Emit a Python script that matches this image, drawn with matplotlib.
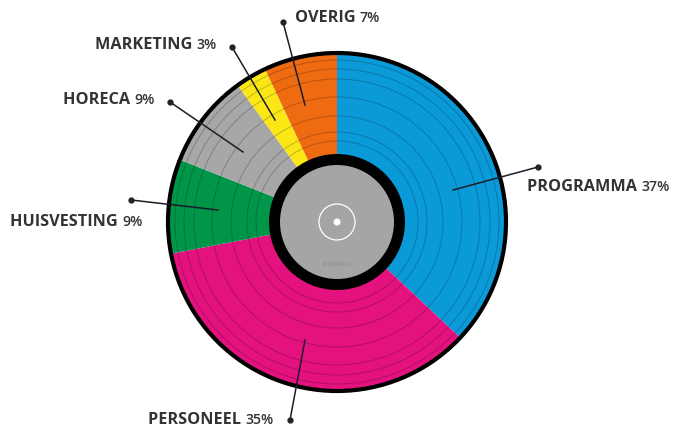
import numpy as np
import matplotlib.pyplot as plt
from matplotlib.patches import Circle

# budget split (clockwise from 12 o'clock)
names = ['PROGRAMMA', 'PERSONEEL', 'HUISVESTING', 'HORECA', 'MARKETING', 'OVERIG']
shares = [37, 35, 9, 9, 3, 7]
colors = ['#0a9ad8', '#e3127f', '#00964a', '#a7a7a7', '#fbe716', '#ef6b12']

# label placement (pixel coords, y from top): text left x, text y, dot, line end
lab_x = [527, 148, 10, 63, 95, 295]
lab_y = [187, 420, 222, 100, 45, 18]
dots = [(538, 167), (290, 420), (131, 200), (170, 102), (232, 47), (283, 22)]
ends = [(453, 190), (305, 340), (218, 210), (243, 152), (275, 120), (305, 105)]

W, H = 673, 428
fig = plt.figure(figsize=(W/100, H/100), dpi=100)
ax = fig.add_axes([0, 0, 1, 1])

cx, cy, R = 337, H-222, 169
ax.pie(shares, colors=colors, startangle=90, counterclock=False,
       radius=R, center=(cx, cy), wedgeprops=dict(linewidth=0))

# grooves
for r in [81, 90, 106, 125, 143, 153, 162]:
    ax.add_patch(Circle((cx, cy), r, fill=False, ec='k', lw=0.7, alpha=0.22))
ax.add_patch(Circle((cx, cy), R, fill=False, ec='k', lw=3))

# label centre
ax.add_patch(Circle((cx, cy), 68, fc='k', ec='none'))
ax.add_patch(Circle((cx, cy), 57, fc='#a5a5a5', ec='none'))
ax.add_patch(Circle((cx, cy), 18, fill=False, ec='white', lw=0.9))
ax.add_patch(Circle((cx, cy), 3.5, fc='white', ec='none'))
ax.text(cx, cy-42, 'XXXXXXXXX', fontsize=3.5, color='#8a8a8a', ha='center', va='center')

for i in range(len(names)):
    dx, dy = dots[i]
    ex, ey = ends[i]
    ax.plot([dx, ex], [H-dy, H-ey], color='#1c1c28', lw=1.1)
    ax.plot(dx, H-dy, 'o', color='#222222', ms=3.5)
    t = ax.text(lab_x[i], H-lab_y[i], names[i] + ' ', fontsize=11.7, fontweight='bold',
                family='Open Sans', color='#333333', ha='left', va='center')
    ax.annotate(str(shares[i]) + '%', xy=(1, 0.5), xycoords=t, fontsize=10.2,
                fontweight='semibold', family='Open Sans', color='#333333',
                ha='left', va='center')

ax.set_xlim(0, W)
ax.set_ylim(0, H)
ax.set_aspect('equal')
ax.axis('off')
fig.savefig('out.png', dpi=100)
